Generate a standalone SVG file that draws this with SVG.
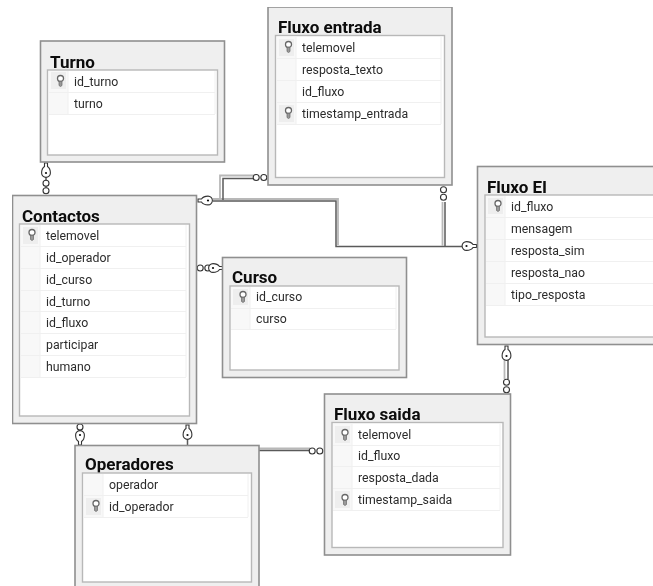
<svg xmlns="http://www.w3.org/2000/svg" xmlns:xlink="http://www.w3.org/1999/xlink" width="653" height="586" viewBox="0 0 653 586">
<style>
text{font-family:Roboto,"Liberation Sans",sans-serif}
.t{font-size:17px;font-weight:700;fill:#0a0a0a}
.f{font-size:12.300px;fill:#2c2c2c}
.o{fill:#efefef;stroke:#8f8f8f;stroke-width:1.6}
.i{fill:#fff;stroke:#b8b8b8;stroke-width:1.4}
.s{fill:#f8f8f8}
.sk{fill:#eeeeee}
.g{fill:none;stroke:#f0f0f0}
.c1{fill:none;stroke:#5a5a5a;stroke-width:1.5}
.c2{fill:none;stroke:#b8b8b8;stroke-width:1.8}
.e{fill:#fff;stroke:#333;stroke-width:1.100}
</style>
<defs>
<filter id="soft" x="0" y="0" width="100%" height="100%"><feGaussianBlur stdDeviation="0.3"/></filter>
<g id="key"><circle cx="0" cy="-2.500" r="3" fill="#fff" stroke="#666" stroke-width="1.300"/><path d="M-1.500 0.200V4.500L0 5.500 1.500 4.500V0.200Z" fill="#999" stroke="#666" stroke-width=".7"/></g>
<g id="many"><circle cx="-3.800" cy="0" r="3" class="e"/><circle cx="3.800" cy="0" r="3" class="e"/></g>
<g id="one"><path d="M-10-1.500H-6.500C-5.500-3 -3-4.400 0-4.400 2.500-4.400 4.400-2.300 4.400 0 4.400 2.300 2.500 4.400 0 4.400-3 4.400-5.500 3-6.500 1.500H-10Z" fill="#fff" stroke="#333" stroke-width="1.100"/><circle cx="0" cy="0" r="1.100" fill="#111"/></g>
</defs>
<g filter="url(#soft)">
<g id="connectors">
<path class="c2" d="M213 199H338V245M220 199V175.500H256"/>
<path class="c1" d="M213 201H336V246.500H462M223 200V178.500H256"/>
<path class="c2" d="M442.500 202V246"/>
<path class="c1" d="M445 202V246"/>
<path class="c1" d="M46 177V188"/>
<path class="c1" d="M209 268H214"/>
<path class="c1" d="M80 430V445M187.500 425V445"/>
<path class="c2" d="M259 448.500H310"/>
<path class="c1" d="M259 450.500H310"/>
<path class="c2" d="M504.500 360V379"/>
<path class="c1" d="M508 360V379"/>
</g>
<g id="connector-ends">
<use xlink:href="#many" transform="translate(46 187) rotate(90)"/>
<use xlink:href="#one" transform="translate(46 173) rotate(90)"/>
<use xlink:href="#one" transform="translate(208 200.500)"/>
<use xlink:href="#many" transform="translate(260 177.500)"/>
<use xlink:href="#one" transform="translate(466.500 246) rotate(180)"/>
<use xlink:href="#many" transform="translate(443.500 193.500) rotate(90)"/>
<use xlink:href="#many" transform="translate(204 268)"/>
<use xlink:href="#one" transform="translate(213 268) rotate(180)"/>
<circle cx="80" cy="427" r="3" class="e"/>
<use xlink:href="#one" transform="translate(80 435) rotate(-90)"/>
<use xlink:href="#one" transform="translate(187.500 435) rotate(90)"/>
<use xlink:href="#many" transform="translate(316 451)"/>
<use xlink:href="#one" transform="translate(506.500 356) rotate(90)"/>
<use xlink:href="#many" transform="translate(506.500 386) rotate(90)"/>
</g>
<g id="turno">
<rect class="o" x="40.500" y="41" width="184" height="121"/>
<text class="t" x="50" y="67.500">Turno</text>
<rect class="i" x="47.500" y="70" width="170" height="85"/>
<rect class="s" x="49" y="71" width="19" height="43"/>
<path class="g" d="M49 92.500H215M49 114.500H215M215 71V114M68 71V114"/>
<rect class="sk" x="51" y="72" width="15" height="17"/>
<use xlink:href="#key" transform="translate(60.500 81)"/>
<text class="f" x="74" y="86">id_turno</text><text class="f" x="74" y="108">turno</text>
</g>
<g id="fluxo-entrada">
<rect class="o" x="268" y="7" width="184" height="178"/>
<text class="t" x="278" y="33">Fluxo entrada</text>
<rect class="i" x="275.500" y="35.500" width="169" height="142"/>
<rect class="s" x="277" y="37" width="19" height="87"/>
<path class="g" d="M277 58.500H441M277 80.500H441M277 102.500H441M277 124.500H441M441 37V124M296 37V124"/>
<rect class="sk" x="279" y="39" width="15" height="17"/><rect class="sk" x="279" y="105" width="15" height="17"/>
<use xlink:href="#key" transform="translate(288.500 47)"/><use xlink:href="#key" transform="translate(288.500 113)"/>
<text class="f" x="302" y="52">telemovel</text><text class="f" x="302" y="74">resposta_texto</text><text class="f" x="302" y="96">id_fluxo</text><text class="f" x="302" y="118">timestamp_entrada</text>
</g>
<g id="contactos">
<rect class="o" x="12.500" y="195.500" width="184" height="228"/>
<text class="t" x="22" y="222">Contactos</text>
<rect class="i" x="19.500" y="224" width="170" height="192"/>
<rect class="s" x="21" y="225" width="19" height="153"/>
<path class="g" d="M21 246.500H186M21 268.500H186M21 290.500H186M21 311.500H186M21 333.500H186M21 355.500H186M21 377.500H186M186 225V377M40 225V377"/>
<rect class="sk" x="23" y="227" width="15" height="17"/>
<use xlink:href="#key" transform="translate(32 235)"/>
<text class="f" x="46" y="240">telemovel</text><text class="f" x="46" y="262">id_operador</text><text class="f" x="46" y="284">id_curso</text><text class="f" x="46" y="306">id_turno</text><text class="f" x="46" y="327">id_fluxo</text><text class="f" x="46" y="349">participar</text><text class="f" x="46" y="371">humano</text>
</g>
<g id="curso">
<rect class="o" x="222.500" y="257.500" width="184" height="120"/>
<text class="t" x="232" y="283">Curso</text>
<rect class="i" x="230" y="286" width="169" height="84"/>
<rect class="s" x="231" y="287" width="19" height="43"/>
<path class="g" d="M231 308.500H396M231 329.500H396M396 287V329M250 287V329"/>
<rect class="sk" x="233" y="289" width="15" height="16"/>
<use xlink:href="#key" transform="translate(243 297)"/>
<text class="f" x="256" y="301">id_curso</text><text class="f" x="256" y="323">curso</text>
</g>
<g id="fluxo-ei">
<rect class="o" x="477.500" y="166.500" width="180" height="178"/>
<text class="t" x="487" y="193">Fluxo EI</text>
<rect class="i" x="485" y="195" width="172" height="142"/>
<rect class="s" x="486" y="196" width="19" height="109"/>
<path class="g" d="M486 217.500H657M486 239.500H657M486 261.500H657M486 283.500H657M486 305.500H657M505 196V305"/>
<rect class="sk" x="488" y="198" width="15" height="16"/>
<use xlink:href="#key" transform="translate(498 206)"/>
<text class="f" x="511" y="211">id_fluxo</text><text class="f" x="511" y="233">mensagem</text><text class="f" x="511" y="255">resposta_sim</text><text class="f" x="511" y="277">resposta_nao</text><text class="f" x="511" y="299">tipo_resposta</text>
</g>
<g id="fluxo-saida">
<rect class="o" x="324.500" y="394" width="186" height="161"/>
<text class="t" x="334" y="420">Fluxo saida</text>
<rect class="i" x="332" y="422.500" width="171" height="125"/>
<rect class="s" x="333" y="424" width="19" height="86"/>
<path class="g" d="M333 445.500H500M333 466.500H500M333 488.500H500M333 510.500H500M500 424V510M352 424V510"/>
<rect class="sk" x="335" y="426" width="15" height="17"/><rect class="sk" x="335" y="491" width="15" height="17"/>
<use xlink:href="#key" transform="translate(345 435)"/><use xlink:href="#key" transform="translate(345 500)"/>
<text class="f" x="358" y="439">telemovel</text><text class="f" x="358" y="460">id_fluxo</text><text class="f" x="358" y="482">resposta_dada</text><text class="f" x="358" y="504">timestamp_saida</text>
</g>
<g id="operadores">
<rect class="o" x="75" y="445.500" width="184" height="150"/>
<text class="t" x="85" y="470">Operadores</text>
<rect class="i" x="82.500" y="473" width="169" height="109"/>
<rect class="s" x="84" y="474" width="19" height="44"/>
<path class="g" d="M84 495.500H248M84 517.500H248M248 474V517M103 474V517"/>
<rect class="sk" x="86" y="498" width="15" height="17"/>
<use xlink:href="#key" transform="translate(96 506)"/>
<text class="f" x="109" y="489">operador</text><text class="f" x="109" y="511">id_operador</text>
</g>
</g>
</svg>
